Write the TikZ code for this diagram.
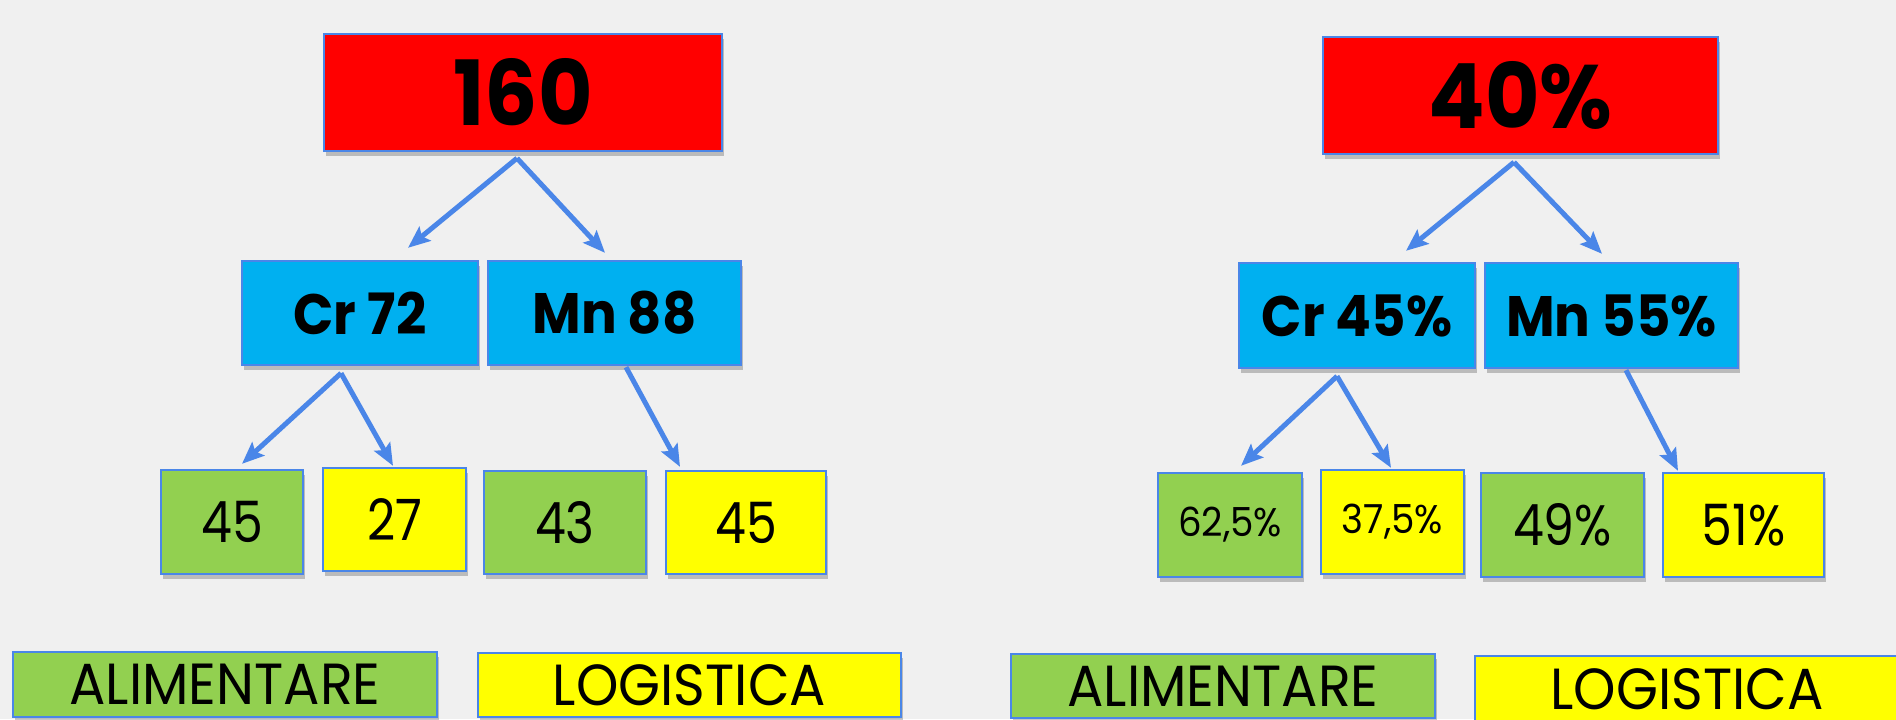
\documentclass[tikz,border=0pt]{standalone}
\usepackage{fontspec}
\setmainfont[FakeStretch=0.93]{Poppins}
\newfontfamily\numf[FakeStretch=0.86]{Poppins}
\usetikzlibrary{arrows.meta,calc,shadows}
\definecolor{bg}{HTML}{F0F0F0}
\definecolor{edge}{HTML}{4A86E8}
\definecolor{redc}{HTML}{FF0000}
\definecolor{bluec}{HTML}{00B0F0}
\definecolor{greenc}{HTML}{92D050}
\definecolor{yellowc}{HTML}{FFFF00}
\tikzset{
  box/.style={draw=edge, line width=1.2pt, inner sep=0pt, text=black,
    drop shadow={shadow xshift=1pt, shadow yshift=-2.5pt, opacity=0.22, fill=black}},
  redbox/.style={box, fill=redc, font=\fontsize{45}{50}\bfseries\selectfont},
  bluebox/.style={box, fill=bluec, font=\fontsize{28.5}{32}\bfseries\selectfont},
  greenbox/.style={box, fill=greenc, font=\numf\fontsize{28.5}{32}\selectfont},
  yellowbox/.style={box, fill=yellowc, font=\numf\fontsize{28.5}{32}\selectfont},
  smalltext/.style={font=\fontsize{20}{24}\selectfont},
  legend/.style={font=\fontsize{29}{32}\selectfont},
  arr/.style={draw=edge, line width=2.5pt, -{Stealth[length=11pt,width=9pt,inset=2pt]}},
}
\begin{document}
\begin{tikzpicture}[x=0.5pt,y=-0.5pt]
\fill[bg] (0,0) rectangle (1896,719);
\useasboundingbox (0,0) rectangle (1896,719);
\clip (0,0) rectangle (1896,719);

% ---------- left tree ----------
\node[redbox, minimum width=199pt, minimum height=58.5pt] (r1) at (523,92.5) {160};
\node[bluebox, minimum width=118pt, minimum height=52pt] (cr1) at (360,313) {Cr 72};
\node[bluebox, minimum width=126.5pt, minimum height=52pt] (mn1) at (614.5,313) {Mn 88};
\node[greenbox, minimum width=71pt, minimum height=52pt] (a1) at (232,522) {45};
\node[yellowbox, minimum width=71.5pt, minimum height=51.5pt] (b1) at (394.5,519.5) {27};
\node[greenbox, minimum width=81pt, minimum height=51.5pt] (c1) at (565,522.5) {43};
\node[yellowbox, minimum width=80pt, minimum height=51.5pt] (d1) at (746,522.5) {45};
\node[greenbox, legend, minimum width=212pt, minimum height=32.5pt] (al1) at (225,684.5) {ALIMENTARE};
\node[yellowbox, legend, minimum width=211.5pt, minimum height=32pt] (lo1) at (689.5,685) {LOGISTICA};

\draw[arr] ($(r1.south)+(-6,6)$) -- ($(cr1.north)+(48,-12)$);
\draw[arr] ($(r1.south)+(-6,6)$) -- ($(mn1.north)+(-9.5,-7)$);
\draw[arr] ($(cr1.south)+(-19,7)$) -- ($(a1.north)+(10,-5)$);
\draw[arr] ($(cr1.south)+(-19,7)$) -- ($(b1.north)+(-1.5,-1)$);
\draw[arr] ($(mn1.south)+(11.5,1)$) -- ($(d1.north)+(-66,-3)$);

% ---------- right tree ----------
\node[redbox, minimum width=197.5pt, minimum height=58.5pt] (r2) at (1520.5,95.5) {40\%};
\node[bluebox, minimum width=118pt, minimum height=52.5pt] (cr2) at (1357,315.5) {Cr 45\%};
\node[bluebox, minimum width=126.5pt, minimum height=52.5pt] (mn2) at (1611.5,315.5) {Mn 55\%};
\node[greenbox, smalltext, minimum width=72pt, minimum height=52pt] (a2) at (1230,525) {62,5\%};
\node[yellowbox, smalltext, minimum width=71.5pt, minimum height=52pt] (b2) at (1392.5,522) {37,5\%};
\node[greenbox, minimum width=81.5pt, minimum height=52pt] (c2) at (1562.5,525) {49\%};
\node[yellowbox, minimum width=80.5pt, minimum height=52pt] (d2) at (1743.5,525) {51\%};
\node[greenbox, legend, minimum width=212pt, minimum height=32pt] (al2) at (1223,686) {ALIMENTARE};
\node[yellowbox, legend, minimum width=212pt, minimum height=33pt] (lo2) at (1687,689) {LOGISTICA};

\draw[arr] ($(r2.south)+(-6.5,7)$) -- ($(cr2.north)+(49,-11)$);
\draw[arr] ($(r2.south)+(-6.5,7)$) -- ($(mn2.north)+(-9.5,-8)$);
\draw[arr] ($(cr2.south)+(-20,7)$) -- ($(a2.north)+(11,-6)$);
\draw[arr] ($(cr2.south)+(-20,7)$) -- ($(b2.north)+(-1.5,-1)$);
\draw[arr] ($(mn2.south)+(14.5,1)$) -- ($(d2.north)+(-65.5,-1)$);
\end{tikzpicture}
\end{document}
